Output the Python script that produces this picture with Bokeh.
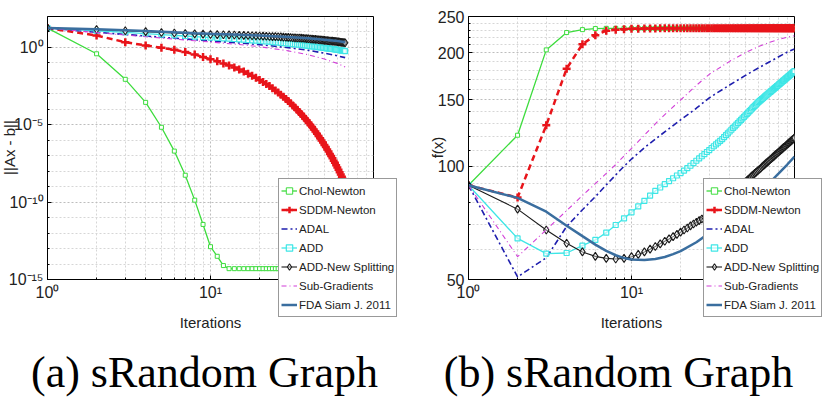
import numpy as np
from bokeh.plotting import figure
from bokeh.layouts import column
from bokeh.models import (Range1d, FixedTicker, CustomJSTickFormatter, Legend,
                          LegendItem, Label, GridBox)
from bokeh.embed import file_html
from bokeh.resources import INLINE

# ---------------------------------------------------------------- data
SERIES = ["Chol-Newton", "SDDM-Newton", "ADAL", "ADD", "ADD-New Splitting",
          "Sub-Gradients", "FDA Siam J. 2011"]
CAPTIONS = ["(a) sRandom Graph", "(b) sRandom Graph"]
Y_LABELS = ["||Ax - b||", "f(x)"]
X_LABEL = "Iterations"

# panel (a): residual ||Ax - b|| per iteration, stored as log10 values
A_ITER = list(range(1, 68))
A_CHOL_LOG10 = [1.25, -0.41, -2.06, -3.55, -5.16, -6.70, -8.26, -9.87, -11.44, -12.88,
                -13.50, -14.10, -14.30, -14.30, -14.30, -14.30, -14.30, -14.30, -14.30, -14.30,
                -14.30, -14.30, -14.30, -14.30, -14.30, -14.30, -14.30, -14.30, -14.30, -14.30,
                -14.30, -14.30, -14.30, -14.30, -14.30, -14.30, -14.30, -14.30, -14.30, -14.30,
                -14.30, -14.30, -14.30, -14.30, -14.30, -14.30, -14.30, -14.30, -14.30, -14.30,
                -14.30, -14.30, -14.30, -14.30, -14.30, -14.30, -14.30, -14.30, -14.30, -14.30,
                -14.30, -14.30, -14.30, -14.30, -14.30, -14.30, -14.30]
A_SDDM_LOG10 = [1.25, 0.77, 0.34, 0.13, -0.02, -0.15, -0.30, -0.45, -0.62, -0.77,
                -0.90, -1.03, -1.16, -1.30, -1.43, -1.56, -1.70, -1.83, -1.96, -2.10,
                -2.23, -2.37, -2.50, -2.64, -2.78, -2.91, -3.05, -3.19, -3.33, -3.47,
                -3.61, -3.75, -3.89, -4.03, -4.17, -4.31, -4.45, -4.59, -4.73, -4.87,
                -5.01, -5.15, -5.30, -5.44, -5.58, -5.72, -5.87, -6.01, -6.15, -6.30,
                -6.44, -6.59, -6.73, -6.88, -7.02, -7.17, -7.32, -7.46, -7.61, -7.76,
                -7.91, -8.06, -8.21, -8.36, -8.51, -8.66, -8.81]
A_ADD_LOG10 = [1.25, 1.08, 0.97, 0.89, 0.83, 0.78, 0.74, 0.70, 0.67, 0.64,
               0.615, 0.59, 0.57, 0.545, 0.52, 0.50, 0.48, 0.46, 0.44, 0.42,
               0.40, 0.385, 0.37, 0.35, 0.335, 0.32, 0.30, 0.285, 0.27, 0.25,
               0.235, 0.22, 0.205, 0.19, 0.175, 0.16, 0.145, 0.13, 0.115, 0.10,
               0.087, 0.074, 0.061, 0.048, 0.035, 0.022, 0.009, -0.004, -0.017, -0.03,
               -0.042, -0.054, -0.066, -0.078, -0.09, -0.102, -0.114, -0.126, -0.138, -0.15,
               -0.163, -0.176, -0.189, -0.202, -0.215, -0.228, -0.24]
A_ADDNS_LOG10 = [1.25, 1.16, 1.08, 1.02, 0.97, 0.93, 0.90, 0.88, 0.86, 0.84,
                 0.83, 0.82, 0.81, 0.80, 0.79, 0.78, 0.77, 0.76, 0.75, 0.74,
                 0.73, 0.72, 0.71, 0.70, 0.70, 0.69, 0.68, 0.67, 0.66, 0.65,
                 0.64, 0.63, 0.62, 0.61, 0.61, 0.60, 0.59, 0.58, 0.57, 0.56,
                 0.55, 0.54, 0.53, 0.52, 0.51, 0.50, 0.49, 0.48, 0.47, 0.46,
                 0.45, 0.44, 0.43, 0.42, 0.42, 0.41, 0.40, 0.39, 0.38, 0.37,
                 0.36, 0.35, 0.34, 0.33, 0.32, 0.31, 0.30]
A_SPARSE_ITER = [1, 2, 3, 4, 5, 6, 8, 10, 15, 20, 30, 40, 50, 60, 67]
A_ADAL_LOG10 = [1.25, 0.98, 0.84, 0.74, 0.66, 0.60, 0.50, 0.42, 0.29, 0.18,
                -0.01, -0.19, -0.37, -0.54, -0.66]
A_SUBG_LOG10 = [1.25, 0.96, 0.80, 0.69, 0.61, 0.54, 0.43, 0.35, 0.19, 0.05,
                -0.22, -0.48, -0.75, -1.03, -1.27]
A_FDA_LOG10 = [1.25, 1.18, 1.11, 1.06, 1.02, 0.98, 0.92, 0.88, 0.82, 0.77,
               0.68, 0.59, 0.50, 0.41, 0.34]

# panel (b): objective f(x) per iteration
B_ITER = list(range(1, 101))
B_CHOL = [89.0, 120.9, 203.8, 226.6, 230.7, 232.2, 232.5, 232.5, 232.5, 232.5,
          232.5, 232.5, 232.5, 232.5, 232.5, 232.5, 232.5, 232.5, 232.5, 232.5,
          232.5, 232.5, 232.5, 232.5, 232.5, 232.5, 232.5, 232.5, 232.5, 232.5,
          232.5, 232.5, 232.5, 232.5, 232.5, 232.5, 232.5, 232.5, 232.5, 232.5,
          232.5, 232.5, 232.5, 232.5, 232.5, 232.5, 232.5, 232.5, 232.5, 232.5,
          232.5, 232.5, 232.5, 232.5, 232.5, 232.5, 232.5, 232.5, 232.5, 232.5,
          232.5, 232.5, 232.5, 232.5, 232.5, 232.5, 232.5, 232.5, 232.5, 232.5,
          232.5, 232.5, 232.5, 232.5, 232.5, 232.5, 232.5, 232.5, 232.5, 232.5,
          232.5, 232.5, 232.5, 232.5, 232.5, 232.5, 232.5, 232.5, 232.5, 232.5,
          232.5, 232.5, 232.5, 232.5, 232.5, 232.5, 232.5, 232.5, 232.5, 232.5]
B_SDDM = [89.0, 82.6, 128.5, 181.7, 211.0, 223.0, 229.0, 230.5, 231.3, 231.8,
          232.0, 232.2, 232.3, 232.4, 232.5, 232.5, 232.5, 232.5, 232.5, 232.5,
          232.5, 232.5, 232.5, 232.5, 232.5, 232.5, 232.5, 232.5, 232.5, 232.5,
          232.5, 232.5, 232.5, 232.5, 232.5, 232.5, 232.5, 232.5, 232.5, 232.5,
          232.5, 232.5, 232.5, 232.5, 232.5, 232.5, 232.5, 232.5, 232.5, 232.5,
          232.5, 232.5, 232.5, 232.5, 232.5, 232.5, 232.5, 232.5, 232.5, 232.5,
          232.5, 232.5, 232.5, 232.5, 232.5, 232.5, 232.5, 232.5, 232.5, 232.5,
          232.5, 232.5, 232.5, 232.5, 232.5, 232.5, 232.5, 232.5, 232.5, 232.5,
          232.5, 232.5, 232.5, 232.5, 232.5, 232.5, 232.5, 232.5, 232.5, 232.5,
          232.5, 232.5, 232.5, 232.5, 232.5, 232.5, 232.5, 232.5, 232.5, 232.5]
B_ADD = [89.0, 64.3, 58.6, 58.8, 61.5, 63.7, 66.6, 69.8, 72.7, 75.4,
         78.2, 80.9, 83.5, 86.0, 87.8, 89.6, 91.3, 92.9, 94.5, 95.9,
         97.4, 98.8, 100.3, 101.9, 103.4, 104.9, 106.3, 107.7, 109.1, 110.4,
         111.8, 113.0, 114.3, 115.6, 116.8, 118.0, 119.5, 120.9, 122.3, 123.7,
         125.0, 126.4, 127.7, 129.0, 130.3, 131.6, 132.8, 134.1, 135.3, 136.5,
         137.7, 138.9, 140.1, 141.3, 142.4, 143.6, 144.7, 145.8, 146.9, 148.0,
         148.9, 149.8, 150.7, 151.6, 152.5, 153.4, 154.2, 155.1, 155.9, 156.8,
         157.6, 158.4, 159.2, 160.0, 160.8, 161.6, 162.4, 163.2, 163.9, 164.7,
         165.5, 166.2, 167.0, 167.7, 168.5, 169.2, 169.9, 170.7, 171.4, 172.1,
         172.8, 173.5, 174.2, 174.9, 175.6, 176.3, 177.0, 177.6, 178.3, 179.0]
B_ADDNS = [89.0, 76.9, 67.7, 62.4, 59.2, 57.6, 56.9, 56.7, 56.9, 57.5,
           58.3, 59.2, 60.2, 61.2, 62.2, 63.2, 64.1, 65.0, 65.9, 66.8,
           67.7, 68.5, 69.4, 70.2, 71.0, 71.7, 72.4, 73.1, 74.0, 74.9,
           75.8, 76.6, 77.5, 78.3, 79.1, 79.9, 80.7, 81.5, 82.4, 83.2,
           84.0, 84.8, 85.6, 86.4, 87.2, 88.0, 88.7, 89.5, 90.2, 90.9,
           91.6, 92.3, 93.0, 93.7, 94.4, 95.0, 95.7, 96.3, 97.0, 97.6,
           98.2, 98.8, 99.5, 100.1, 100.7, 101.3, 101.9, 102.4, 103.0, 103.6,
           104.2, 104.7, 105.3, 105.9, 106.4, 107.0, 107.5, 108.1, 108.6, 109.1,
           109.6, 110.2, 110.7, 111.2, 111.7, 112.2, 112.7, 113.2, 113.7, 114.2,
           114.7, 115.2, 115.6, 116.1, 116.6, 117.1, 117.5, 118.0, 118.5, 119.0]
B_SPARSE_ITER = [1, 2, 3, 4, 5, 6, 7, 8, 9, 10, 12, 15, 20, 25, 30, 40, 50, 60, 70, 80, 90, 100]
B_ADAL = [89.0, 50.8, 57.1, 69.2, 76.6, 83.0, 89.2, 94.8, 100.0, 104.5, 112.0,
          120.8, 132.8, 142.6, 152.0, 164.4, 174.3, 182.4, 189.3, 195.4, 200.9, 205.0]
B_SUBG = [89.0, 57.5, 67.8, 76.2, 83.6, 89.9, 95.7, 101.0, 106.5, 111.5, 121.0,
          133.6, 150.0, 164.0, 175.5, 190.0, 200.5, 208.0, 213.3, 217.3, 220.3, 222.3]
B_FDA_ITER = [1, 2, 3, 4, 5, 6, 7, 8, 9, 10, 12, 14, 16, 18, 20, 25, 30, 40, 50, 60, 70, 80, 90, 100]
B_FDA = [89.0, 82.4, 75.7, 69.5, 65.2, 61.9, 59.6, 58.0, 57.0, 56.5, 56.3, 56.7,
         57.4, 58.4, 59.5, 62.8, 66.4, 72.8, 78.8, 84.5, 90.2, 95.7, 100.9, 106.0]

# axis ticks
X_TICKS = [1, 10]
X_MINOR = [2, 3, 4, 5, 6, 7, 8, 9, 20, 30, 40, 50, 60, 70, 80, 90]
A_Y_TICKS = [1e-15, 1e-10, 1e-5, 1e0]
A_Y_MINOR = [1e-14, 1e-13, 1e-12, 1e-11, 1e-9, 1e-8, 1e-7, 1e-6,
             1e-4, 1e-3, 1e-2, 1e-1, 1e1]
B_Y_TICKS = [50, 100, 150, 200, 250]
B_Y_MINOR = [60, 70, 80, 90, 110, 120, 130, 140, 160, 170, 180, 190,
             210, 220, 230, 240]

# ---------------------------------------------------------------- style
SANS = "Liberation Sans"
SERIF = "Liberation Serif"
C_CHOL, C_SDDM, C_ADAL = "#3ddc3d", "#e8141a", "#1f1fae"
C_ADD, C_ADDNS, C_SUBG, C_FDA = "#3ee6e6", "#1a1a1a", "#d23fd8", "#3a6e9f"

STYLES = [
    dict(line=dict(line_color=C_CHOL, line_width=1.3),
         marker=dict(marker="square", size=4, line_color=C_CHOL,
                     fill_color="white", line_width=1)),
    dict(line=dict(line_color=C_SDDM, line_width=2.5, line_dash="6 4"),
         marker=dict(marker="cross", size=8, line_color=C_SDDM, line_width=2.5)),
    dict(line=dict(line_color=C_ADAL, line_width=1.6, line_dash="6 3 2 3"),
         marker=None),
    dict(line=dict(line_color=C_ADD, line_width=1.3),
         marker=dict(marker="square", size=5, line_color=C_ADD,
                     fill_color="white", fill_alpha=0.6, line_width=1.2)),
    dict(line=dict(line_color=C_ADDNS, line_width=1.1),
         marker=dict(marker="diamond", size=8, line_color=C_ADDNS,
                     fill_color="white", fill_alpha=0.4, line_width=1.1)),
    dict(line=dict(line_color=C_SUBG, line_width=1.1, line_dash="5 3 1 3"),
         marker=None),
    dict(line=dict(line_color=C_FDA, line_width=2.5), marker=None),
]

EXP_JS = """
const sup = {"0":"\u2070","1":"\u00b9","2":"\u00b2","3":"\u00b3","4":"\u2074",
             "5":"\u2075","6":"\u2076","7":"\u2077","8":"\u2078","9":"\u2079","-":"\u207b"};
const e = Math.round(Math.log10(tick));
return "10" + String(e).split("").map(c => sup[c]).join("");
"""
INT_JS = "return tick.toFixed(0);"


def make_fig(y_range, left, right, yticks, yminor, yfmt):
    p = figure(width=415, height=404, x_axis_type="log", y_axis_type="log",
               x_range=Range1d(1, 100), y_range=y_range,
               min_border_left=left, min_border_right=right,
               min_border_top=16, min_border_bottom=125,
               output_backend="svg", toolbar_location=None)
    p.outline_line_color = "black"
    p.outline_line_width = 1
    p.background_fill_color = "white"
    p.border_fill_color = "white"

    xt = FixedTicker(ticks=X_TICKS, minor_ticks=X_MINOR)
    yt = FixedTicker(ticks=yticks, minor_ticks=yminor)
    p.xaxis.ticker = xt
    p.yaxis.ticker = yt
    p.xgrid.ticker = xt
    p.ygrid.ticker = yt
    p.xaxis.formatter = CustomJSTickFormatter(code=EXP_JS)
    p.yaxis.formatter = CustomJSTickFormatter(code=yfmt)

    for ax in (p.xaxis[0], p.yaxis[0]):
        ax.axis_line_color = "black"
        ax.major_tick_line_color = "black"
        ax.minor_tick_line_color = "black"
        ax.major_tick_in = 4
        ax.major_tick_out = 0
        ax.minor_tick_in = 2
        ax.minor_tick_out = 0
        ax.major_label_text_font = SANS
        ax.major_label_text_font_size = "16px"
        ax.major_label_text_color = "#222222"
        ax.major_label_standoff = 4
    p.xaxis.axis_label = X_LABEL
    p.xaxis.axis_label_text_font = SANS
    p.xaxis.axis_label_text_font_size = "15px"
    p.xaxis.axis_label_text_font_style = "normal"
    p.xaxis.axis_label_text_color = "#222222"
    p.xaxis.axis_label_standoff = 10

    for g in (p.xgrid[0], p.ygrid[0]):
        g.grid_line_color = "#bdbdbd"
        g.grid_line_dash = "2 2"
        g.minor_grid_line_color = "#d6d6d6"
        g.minor_grid_line_dash = "2 2"
    return p


def add_series(p, runs):
    # runs: list of (iterations, values) in SERIES order
    for (xs, ys), st in zip(runs, STYLES):
        p.line(xs, ys, **st["line"])
        if st["marker"] is not None:
            p.scatter(xs, ys, **st["marker"])


def pow10(vals):
    return list(np.power(10.0, vals))


# ---------------------------------------------------------------- panel (a)
pa = make_fig(Range1d(1e-15, 1e2), 47, 42, A_Y_TICKS, A_Y_MINOR, EXP_JS)
add_series(pa, [
    (A_ITER, pow10(A_CHOL_LOG10)),
    (A_ITER, pow10(A_SDDM_LOG10)),
    (A_SPARSE_ITER, pow10(A_ADAL_LOG10)),
    (A_ITER, pow10(A_ADD_LOG10)),
    (A_ITER, pow10(A_ADDNS_LOG10)),
    (A_SPARSE_ITER, pow10(A_SUBG_LOG10)),
    (A_SPARSE_ITER, pow10(A_FDA_LOG10)),
])

# ---------------------------------------------------------------- panel (b)
pb = make_fig(Range1d(50, 250), 53, 36, B_Y_TICKS, B_Y_MINOR, INT_JS)
add_series(pb, [
    (B_ITER, B_CHOL),
    (B_ITER, B_SDDM),
    (B_SPARSE_ITER, B_ADAL),
    (B_ITER, B_ADD),
    (B_ITER, B_ADDNS),
    (B_SPARSE_ITER, B_SUBG),
    (B_FDA_ITER, B_FDA),
])

# ---------------------------------------------------------------- overlay
# A transparent full-size sheet laid over both panels (pixel coordinates,
# origin bottom-left) holds the legends, y-axis titles and captions, so
# they may straddle the axes boxes.
ov = figure(width=830, height=404, x_range=Range1d(0, 830), y_range=Range1d(0, 404),
            min_border=0, x_axis_location=None, y_axis_location=None,
            output_backend="svg", toolbar_location=None)
ov.grid.visible = False
ov.outline_line_color = None
ov.background_fill_alpha = 0
ov.border_fill_alpha = 0

# legend proxies: one off-sheet point per series, only their styles are shown
PROXY = [-50, -40]
items = []
for name, st in zip(SERIES, STYLES):
    rs = [ov.line(PROXY, PROXY, **st["line"])]
    if st["marker"] is not None:
        rs.append(ov.scatter(PROXY[:1], PROXY[:1], **st["marker"]))
    items.append(LegendItem(label=name, renderers=rs))

for loc in [(278, 87), (703, 87)]:
    ov.add_layout(Legend(items=items, location=loc, margin=0, padding=2, spacing=0,
                         glyph_width=16, glyph_height=19, label_height=19,
                         label_standoff=2, label_text_font=SANS,
                         label_text_font_size="11.5px", label_text_color="#222222",
                         border_line_color="#333333", border_line_width=1,
                         background_fill_color="white", background_fill_alpha=1.0))

for text, x in zip(Y_LABELS, [9, 437]):
    ov.add_layout(Label(x=x, y=257, text=text, angle=90, angle_units="deg",
                        text_align="center", text_baseline="middle",
                        text_font=SANS, text_font_size="15px",
                        text_color="#222222"))

for text, x in zip(CAPTIONS, [204, 618]):
    ov.add_layout(Label(x=x, y=32, text=text, text_align="center",
                        text_baseline="middle", text_font=SERIF,
                        text_font_size="44px", text_color="black"))

layout = GridBox(children=[(pa, 0, 0), (pb, 0, 1), (column(ov), 0, 0, 1, 2)],
                 spacing=0)
open("out.html", "w").write(file_html(layout, INLINE))
